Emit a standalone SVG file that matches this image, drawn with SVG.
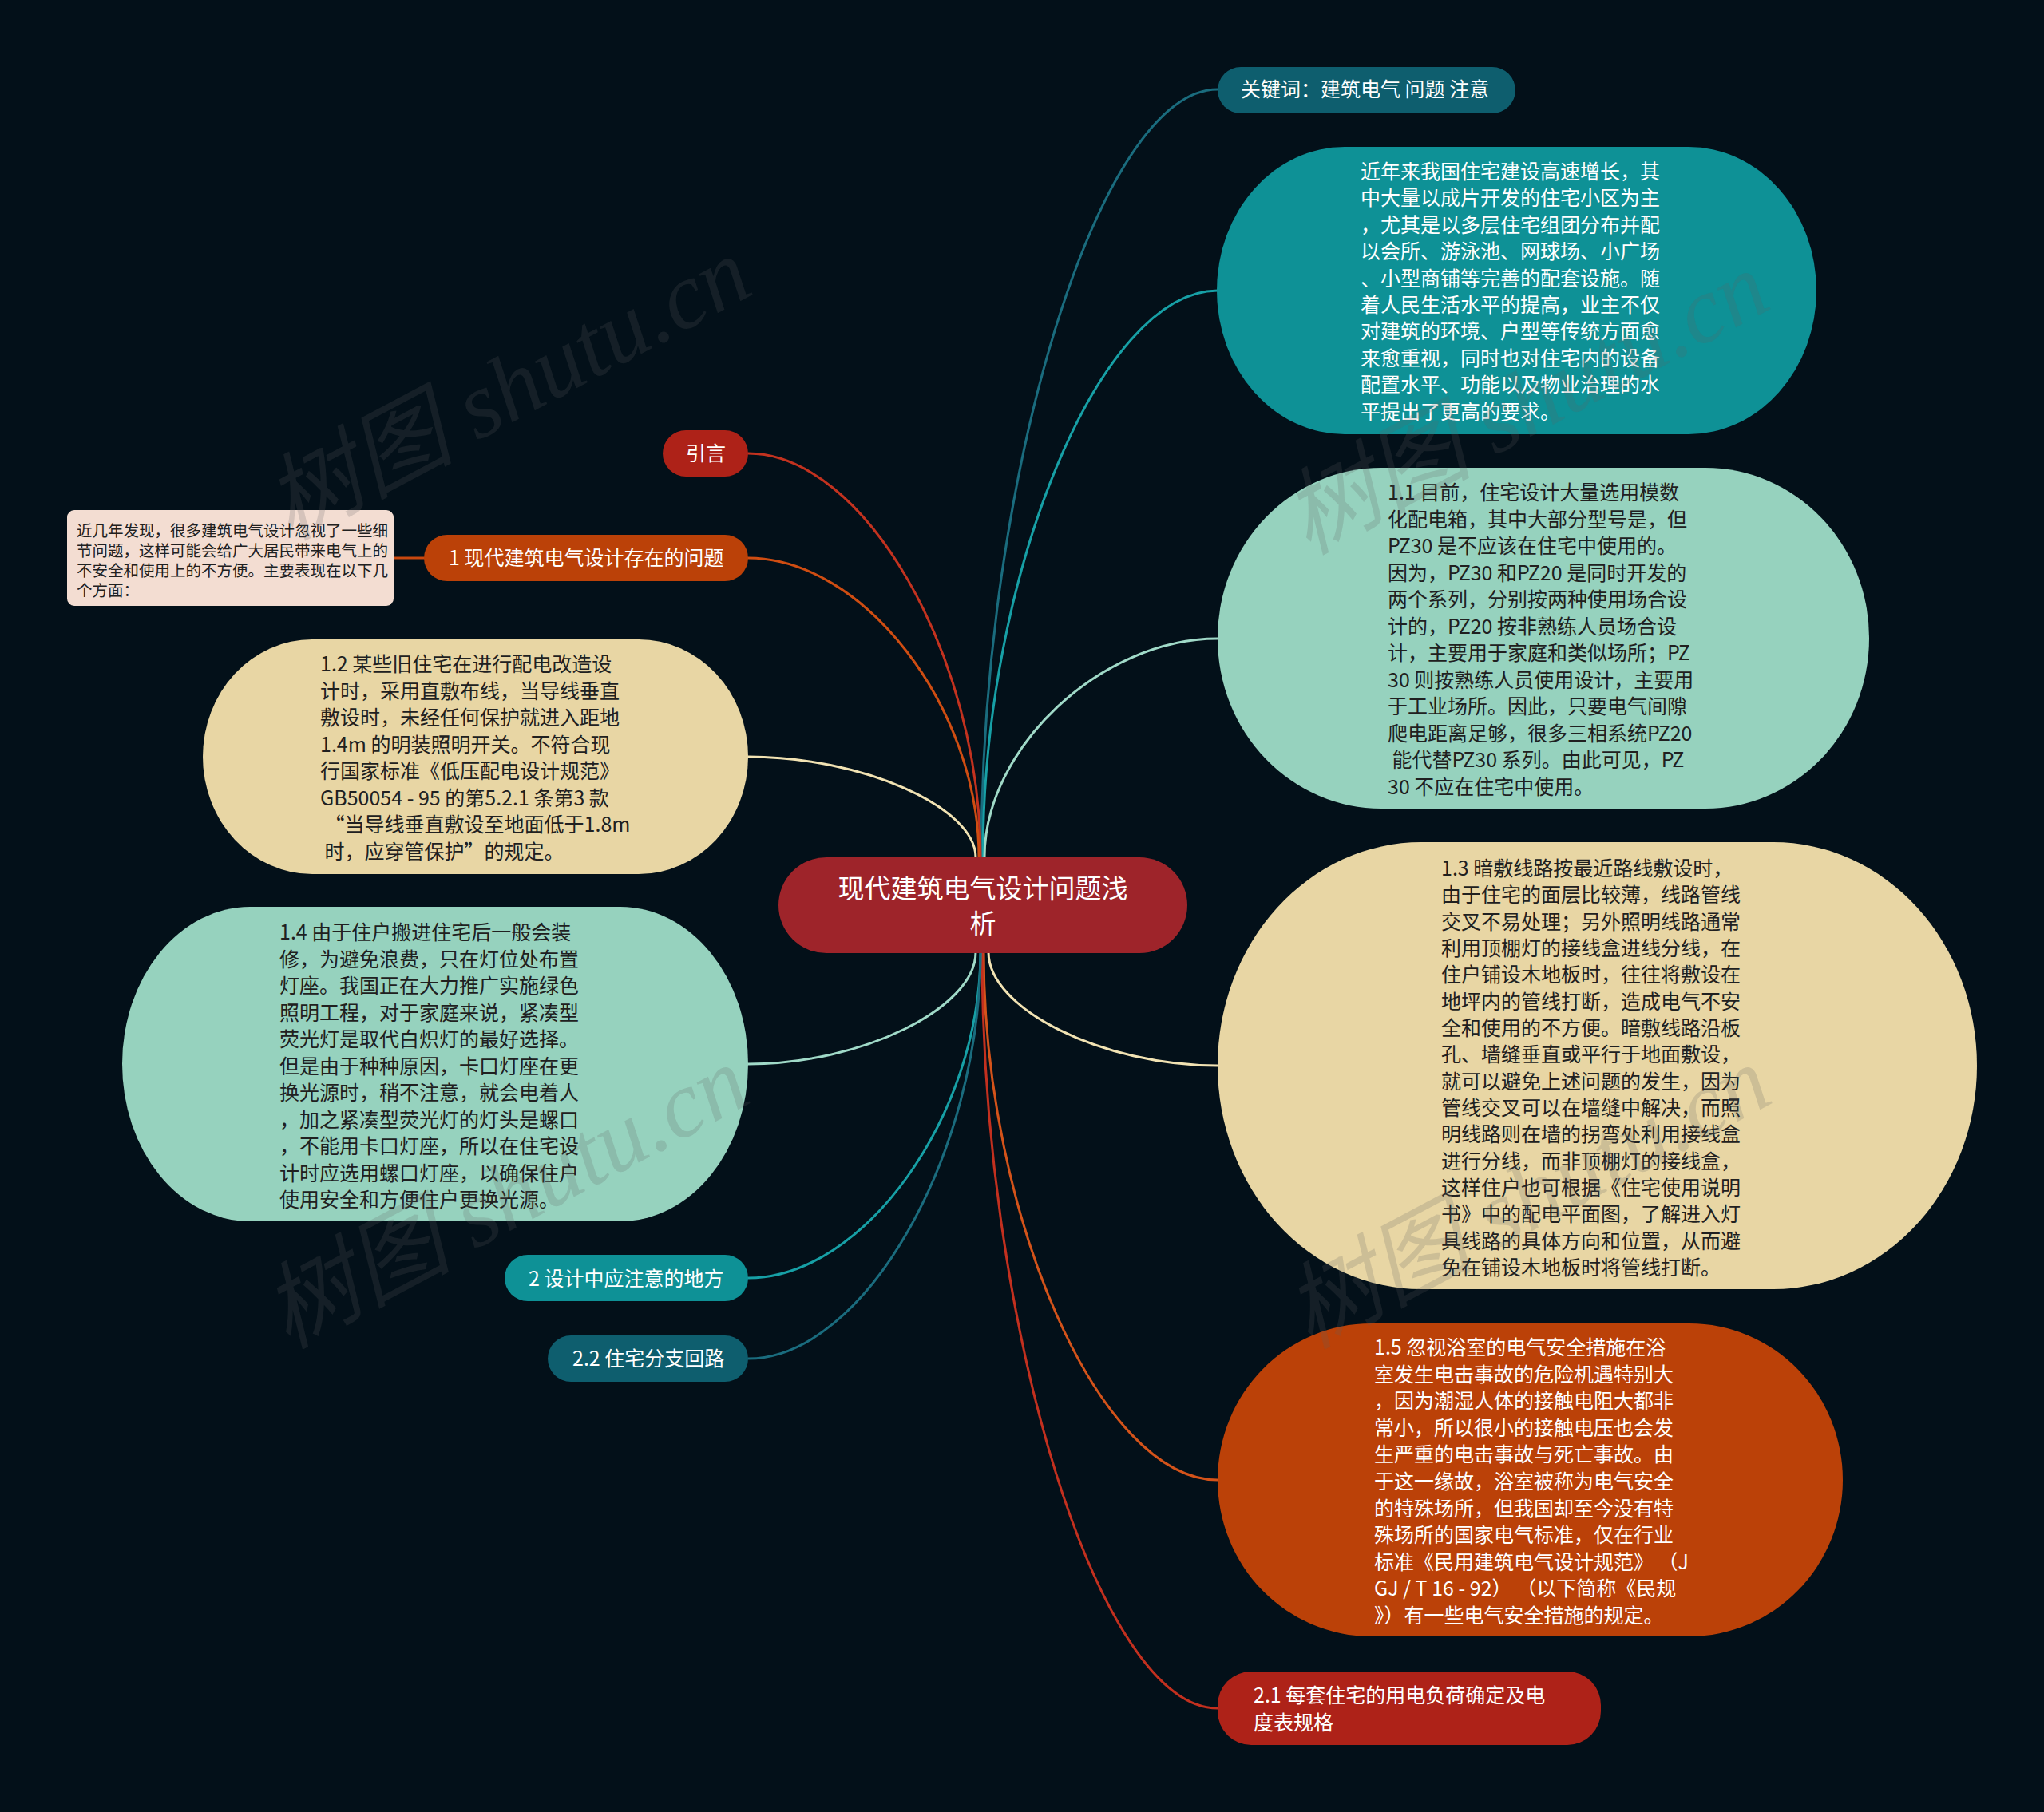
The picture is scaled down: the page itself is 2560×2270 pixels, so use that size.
<svg xmlns="http://www.w3.org/2000/svg" width="2560" height="2270" viewBox="0 0 2560 2270">
<style>
text{font-family:"Noto Sans CJK SC","Noto Sans",sans-serif}
.f25{font-size:25px}
.w{fill:#ffffff}
.d{fill:#202020}
.c{fill:none;stroke-width:3;stroke-linecap:round}
.wm{font-family:"Liberation Serif","Noto Sans CJK SC",serif;font-style:italic;font-size:118px;fill:#606060;fill-opacity:0.2}
</style>
<rect x="0" y="0" width="2560" height="2270" fill="#031019"/>

<g id="connectors">
<path class="c" stroke="#1a6c7e" d="M1229 1074 C1229 593 1377 112 1525 112"/>
<path class="c" stroke="#17a0a6" d="M1231 1074 C1231 719 1378 364 1525 364"/>
<path class="c" stroke="#a0dac8" d="M1233 1074 C1233 937 1379 800 1525 800"/>
<path class="c" stroke="#c3321f" d="M1228 1074 C1228 821 1082 568 937 568"/>
<path class="c" stroke="#cf4d12" d="M1226 1074 C1226 886 1081 699 937 699"/>
<path class="c" stroke="#f2e3b3" d="M1222 1074 C1222 1011 1079 948 937 948"/>
<path class="c" stroke="#f2e3b3" d="M1238 1193 C1238 1264 1381 1335 1525 1335"/>
<path class="c" stroke="#d4531a" d="M1232 1193 C1232 1523 1378 1854 1525 1854"/>
<path class="c" stroke="#c3301f" d="M1230 1193 C1230 1666 1377 2140 1525 2140"/>
<path class="c" stroke="#a0dac8" d="M1222 1193 C1222 1263 1079 1333 937 1333"/>
<path class="c" stroke="#17a0a6" d="M1228 1193 C1228 1397 1082 1601 937 1601"/>
<path class="c" stroke="#1a6c7e" d="M1228 1193 C1228 1447 1082 1702 937 1702"/>
<path class="c" stroke="#c9480f" d="M493 699 L531 699"/>
</g>

<g id="center">
<rect x="975" y="1074" width="512" height="120" rx="60" fill="#9e242a"/>
<text class="w" font-size="33" text-anchor="middle"><tspan x="1231" y="1125">现代建筑电气设计问题浅</tspan><tspan x="1231" y="1169">析</tspan></text>
</g>

<g id="n-keywords">
<rect x="1525" y="84" width="373" height="58" rx="29" fill="#0e5e6e"/>
<text class="w f25" x="1554" y="121">关键词：建筑电气 问题 注意</text>
</g>

<g id="n-intro-text">
<rect x="1524" y="184" width="751" height="360" rx="160" ry="180" fill="#0e9196"/>
<text class="w f25"><tspan x="1704" y="224">近年来我国住宅建设高速增长，其</tspan><tspan x="1704" y="257.4">中大量以成片开发的住宅小区为主</tspan><tspan x="1704" y="290.8">，尤其是以多层住宅组团分布并配</tspan><tspan x="1704" y="324.2">以会所、游泳池、网球场、小广场</tspan><tspan x="1704" y="357.6">、小型商铺等完善的配套设施。随</tspan><tspan x="1704" y="391">着人民生活水平的提高，业主不仅</tspan><tspan x="1704" y="424.4">对建筑的环境、户型等传统方面愈</tspan><tspan x="1704" y="457.8">来愈重视，同时也对住宅内的设备</tspan><tspan x="1704" y="491.2">配置水平、功能以及物业治理的水</tspan><tspan x="1704" y="524.6">平提出了更高的要求。</tspan></text>
</g>

<g id="n-1-1">
<rect x="1525" y="586" width="816" height="427" rx="205" ry="213" fill="#96d2be"/>
<text class="d f25" xml:space="preserve"><tspan x="1738" y="626">1.1 目前，住宅设计大量选用模数</tspan><tspan x="1738" y="659.5">化配电箱，其中大部分型号是，但</tspan><tspan x="1738" y="693">PZ30 是不应该在住宅中使用的。</tspan><tspan x="1738" y="726.5">因为，PZ30 和PZ20 是同时开发的</tspan><tspan x="1738" y="760">两个系列，分别按两种使用场合设</tspan><tspan x="1738" y="793.5">计的，PZ20 按非熟练人员场合设</tspan><tspan x="1738" y="827">计，主要用于家庭和类似场所；PZ</tspan><tspan x="1738" y="860.5">30 则按熟练人员使用设计，主要用</tspan><tspan x="1738" y="894">于工业场所。因此，只要电气间隙</tspan><tspan x="1738" y="927.5">爬电距离足够，很多三相系统PZ20</tspan><tspan x="1738" y="961"> 能代替PZ30 系列。由此可见，PZ</tspan><tspan x="1738" y="994.5">30 不应在住宅中使用。</tspan></text>
</g>

<g id="n-1-3">
<rect x="1525" y="1055" width="951" height="560" rx="255" ry="280" fill="#e8d6a4"/>
<text class="d f25"><tspan x="1805" y="1097">1.3 暗敷线路按最近路线敷设时，</tspan><tspan x="1805" y="1130.3">由于住宅的面层比较薄，线路管线</tspan><tspan x="1805" y="1163.7">交叉不易处理；另外照明线路通常</tspan><tspan x="1805" y="1197">利用顶棚灯的接线盒进线分线，在</tspan><tspan x="1805" y="1230.3">住户铺设木地板时，往往将敷设在</tspan><tspan x="1805" y="1263.7">地坪内的管线打断，造成电气不安</tspan><tspan x="1805" y="1297">全和使用的不方便。暗敷线路沿板</tspan><tspan x="1805" y="1330.3">孔、墙缝垂直或平行于地面敷设，</tspan><tspan x="1805" y="1363.7">就可以避免上述问题的发生，因为</tspan><tspan x="1805" y="1397">管线交叉可以在墙缝中解决，而照</tspan><tspan x="1805" y="1430.3">明线路则在墙的拐弯处利用接线盒</tspan><tspan x="1805" y="1463.7">进行分线，而非顶棚灯的接线盒，</tspan><tspan x="1805" y="1497">这样住户也可根据《住宅使用说明</tspan><tspan x="1805" y="1530.3">书》中的配电平面图，了解进入灯</tspan><tspan x="1805" y="1563.7">具线路的具体方向和位置，从而避</tspan><tspan x="1805" y="1597">免在铺设木地板时将管线打断。</tspan></text>
</g>

<g id="n-1-5">
<rect x="1525" y="1658" width="783" height="392" rx="192" ry="196" fill="#bb4108"/>
<text class="w f25" xml:space="preserve"><tspan x="1721" y="1697">1.5 忽视浴室的电气安全措施在浴</tspan><tspan x="1721" y="1730.6">室发生电击事故的危险机遇特别大</tspan><tspan x="1721" y="1764.2">，因为潮湿人体的接触电阻大都非</tspan><tspan x="1721" y="1797.8">常小，所以很小的接触电压也会发</tspan><tspan x="1721" y="1831.4">生严重的电击事故与死亡事故。由</tspan><tspan x="1721" y="1865">于这一缘故，浴室被称为电气安全</tspan><tspan x="1721" y="1898.6">的特殊场所，但我国却至今没有特</tspan><tspan x="1721" y="1932.2">殊场所的国家电气标准，仅在行业</tspan><tspan x="1721" y="1965.8">标准《民用建筑电气设计规范》 （J</tspan><tspan x="1721" y="1999.4">GJ / T 16 - 92） （以下简称《民规</tspan><tspan x="1721" y="2033">》）有一些电气安全措施的规定。</tspan></text>
</g>

<g id="n-2-1">
<rect x="1525" y="2094" width="480" height="92" rx="42" fill="#ae2218"/>
<text class="w f25"><tspan x="1570" y="2133">2.1 每套住宅的用电负荷确定及电</tspan><tspan x="1570" y="2167">度表规格</tspan></text>
</g>

<g id="n-yinyan">
<rect x="830" y="539" width="107" height="58" rx="29" fill="#ae2218"/>
<text class="w f25" x="884" y="577" text-anchor="middle">引言</text>
</g>

<g id="n-1">
<rect x="531" y="670" width="406" height="58" rx="29" fill="#bb4108"/>
<text class="w f25" x="562" y="708">1 现代建筑电气设计存在的问题</text>
</g>

<g id="n-note">
<rect x="84" y="639" width="409" height="120" rx="9" fill="#f3ddd2"/>
<text class="d" font-size="19.5"><tspan x="96" y="672">近几年发现，很多建筑电气设计忽视了一些细</tspan><tspan x="96" y="697">节问题，这样可能会给广大居民带来电气上的</tspan><tspan x="96" y="722">不安全和使用上的不方便。主要表现在以下几</tspan><tspan x="96" y="747">个方面：</tspan></text>
</g>

<g id="n-1-2">
<rect x="254" y="801" width="683" height="294" rx="137" ry="147" fill="#e8d6a4"/>
<text class="d f25" xml:space="preserve"><tspan x="401" y="841">1.2 某些旧住宅在进行配电改造设</tspan><tspan x="401" y="874.6">计时，采用直敷布线，当导线垂直</tspan><tspan x="401" y="908.1">敷设时，未经任何保护就进入距地</tspan><tspan x="401" y="941.7">1.4m 的明装照明开关。不符合现</tspan><tspan x="401" y="975.3">行国家标准《低压配电设计规范》</tspan><tspan x="401" y="1008.9">GB50054 - 95 的第5.2.1 条第3 款</tspan><tspan x="401" y="1042.4"> “当导线垂直敷设至地面低于1.8m</tspan><tspan x="401" y="1076"> 时，应穿管保护”的规定。</tspan></text>
</g>

<g id="n-1-4">
<rect x="153" y="1136" width="784" height="394" rx="160" ry="197" fill="#96d2be"/>
<text class="d f25"><tspan x="350" y="1177">1.4 由于住户搬进住宅后一般会装</tspan><tspan x="350" y="1210.5">修，为避免浪费，只在灯位处布置</tspan><tspan x="350" y="1244">灯座。我国正在大力推广实施绿色</tspan><tspan x="350" y="1277.5">照明工程，对于家庭来说，紧凑型</tspan><tspan x="350" y="1311">荧光灯是取代白炽灯的最好选择。</tspan><tspan x="350" y="1344.5">但是由于种种原因，卡口灯座在更</tspan><tspan x="350" y="1378">换光源时，稍不注意，就会电着人</tspan><tspan x="350" y="1411.5">，加之紧凑型荧光灯的灯头是螺口</tspan><tspan x="350" y="1445">，不能用卡口灯座，所以在住宅设</tspan><tspan x="350" y="1478.5">计时应选用螺口灯座，以确保住户</tspan><tspan x="350" y="1512">使用安全和方便住户更换光源。</tspan></text>
</g>

<g id="n-2">
<rect x="632" y="1572" width="305" height="58" rx="29" fill="#0e9196"/>
<text class="w f25" x="662" y="1611">2 设计中应注意的地方</text>
</g>

<g id="n-2-2">
<rect x="686" y="1673" width="251" height="58" rx="29" fill="#0e5e6e"/>
<text class="w f25" x="717" y="1711">2.2 住宅分支回路</text>
</g>

<g id="watermarks">
<text class="wm" text-anchor="middle" transform="translate(655 522) rotate(-28)">树图 shutu.cn</text>
<text class="wm" text-anchor="middle" transform="translate(1930 540) rotate(-28)">树图 shutu.cn</text>
<text class="wm" text-anchor="middle" transform="translate(652 1535) rotate(-28)">树图 shutu.cn</text>
<text class="wm" text-anchor="middle" transform="translate(1932 1535) rotate(-28)">树图 shutu.cn</text>
</g>
</svg>
